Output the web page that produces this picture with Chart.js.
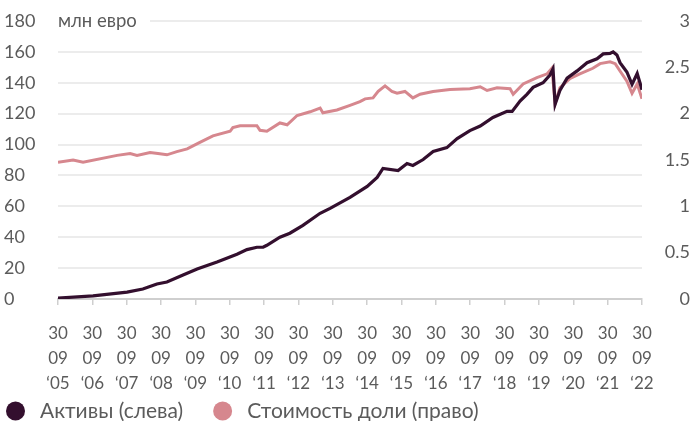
<!DOCTYPE html>
<html>
<head>
<meta charset="utf-8">
<script src="https://cdn.jsdelivr.net/npm/chart.js@4"></script>
<style>
  body { margin: 0; background: #fff; }
  #wrap { width: 694px; height: 421px; }
</style>
</head>
<body>
<div id="wrap"><canvas id="fundChart" width="694" height="421"></canvas></div>
<script>
/*global Chart*/

//----------------------------------------------------------------
/* Data (x = decimal year) */
//----------------------------------------------------------------
var assetYears = [2005.75, 2006.77, 2007.76, 2008.22, 2008.63, 2008.92, 2009.39, 2009.80, 2010.38, 2010.96,
    2011.25, 2011.54, 2011.72, 2011.83, 2012.21, 2012.50, 2012.88, 2013.38, 2013.67, 2014.25,
    2014.75, 2015.04, 2015.21, 2015.65, 2015.91, 2016.08, 2016.38, 2016.67, 2017.07, 2017.37,
    2017.74, 2018.04, 2018.41, 2018.82, 2018.97, 2019.20, 2019.40, 2019.58, 2019.87, 2020.07,
    2020.16, 2020.22, 2020.36, 2020.57, 2020.86, 2021.15, 2021.44, 2021.62, 2021.82, 2021.91,
    2022.02, 2022.11, 2022.31, 2022.46, 2022.61, 2022.75];
var assetValues = [0.6, 2, 4.5, 6.5, 9.7, 11, 15.5, 19.4, 24, 29,
    32, 33.5, 33.5, 34.8, 40, 42.6, 47.7, 55.5, 58.7, 65.8,
    72.9, 78.7, 84.5, 83.2, 87.7, 86.5, 90.3, 95.5, 98, 103.9,
    109, 112, 117.5, 121.5, 121.5, 128.2, 132.5, 137, 140, 145,
    149, 126, 135, 143, 147.7, 153, 155.5, 158.7, 159, 160,
    158, 153, 147, 139, 146, 135.5];

var shareYears = [2005.75, 2006.19, 2006.48, 2007.47, 2007.85, 2008.05, 2008.43, 2008.66, 2008.92, 2009.21,
    2009.51, 2009.88, 2010.26, 2010.76, 2010.84, 2011.05, 2011.54, 2011.63, 2011.83, 2012.21,
    2012.42, 2012.71, 2013.09, 2013.38, 2013.46, 2013.87, 2014.25, 2014.54, 2014.69, 2014.92,
    2015.07, 2015.27, 2015.47, 2015.62, 2015.85, 2016.08, 2016.29, 2016.67, 2017.16, 2017.74,
    2018.04, 2018.24, 2018.53, 2018.91, 2019.00, 2019.29, 2019.69, 2019.99, 2020.13, 2020.22,
    2020.36, 2020.66, 2020.94, 2021.32, 2021.53, 2021.82, 2021.97, 2022.11, 2022.31, 2022.46,
    2022.61, 2022.75];
var shareValues = [1.476, 1.50, 1.476, 1.55, 1.57, 1.55, 1.58, 1.57, 1.556, 1.59,
    1.62, 1.69, 1.76, 1.81, 1.85, 1.87, 1.87, 1.82, 1.81, 1.90,
    1.88, 1.98, 2.02, 2.06, 2.01, 2.04, 2.09, 2.13, 2.16, 2.17,
    2.24, 2.30, 2.24, 2.22, 2.24, 2.17, 2.21, 2.24, 2.26, 2.27,
    2.29, 2.25, 2.28, 2.27, 2.21, 2.32, 2.39, 2.43, 2.49, 2.11,
    2.28, 2.38, 2.43, 2.49, 2.54, 2.56, 2.54, 2.46, 2.35, 2.22,
    2.32, 2.16];

var tickYears = ["05", "06", "07", "08", "09", "10", "11", "12", "13", "14",
    "15", "16", "17", "18", "19", "20", "21", "22"];
var leftTicks = [0, 20, 40, 60, 80, 100, 120, 140, 160, 180];
var rightTicks = [0, 0.5, 1, 1.5, 2, 2.5, 3];

//----------------------------------------------------------------
/* Chart */
//----------------------------------------------------------------
function toPoints(xs, ys) {
    return xs.map(function (x, i) { return {x: x, y: ys[i]}; });
}

var textColor = "#5b5b5b";
var fontFamily = "Lato, 'Open Sans', sans-serif";

// "млн евро" sits on the top gridline, with white behind it
var unitLabel = {
    id: "unitLabel",
    afterDraw: function (chart) {
        var c = chart.ctx;
        var y = chart.scales.yLeft.getPixelForValue(180);
        c.save();
        c.fillStyle = "#fff";
        c.fillRect(chart.chartArea.left - 2, y - 4, 94, 8);
        c.fillStyle = textColor;
        c.font = "18.5px " + fontFamily;
        c.textBaseline = "middle";
        c.fillText("млн евро", chart.chartArea.left, y);
        c.restore();
    }
};

// legend with round markers, drawn under the axis
var bottomLegend = {
    id: "bottomLegend",
    afterDraw: function (chart) {
        var c = chart.ctx;
        var x = 6, y = 411;
        c.save();
        c.font = "21px " + fontFamily;
        c.textBaseline = "middle";
        chart.data.datasets.forEach(function (ds) {
            c.fillStyle = ds.borderColor;
            c.beginPath();
            c.arc(x + 9.5, y, 9.5, 0, Math.PI * 2);
            c.fill();
            c.fillStyle = textColor;
            c.fillText(ds.label, x + 34, y);
            x += 34 + c.measureText(ds.label).width + 30;
        });
        c.restore();
    }
};

var lineData = {
    datasets: [
        {
            label: "Активы (слева)",
            data: toPoints(assetYears, assetValues),
            borderColor: "#330f2e",
            backgroundColor: "#330f2e",
            borderWidth: 3.2,
            pointRadius: 0,
            yAxisID: "yLeft"
        },
        {
            label: "Стоимость доли (право)",
            data: toPoints(shareYears, shareValues),
            borderColor: "#d6878e",
            backgroundColor: "#d6878e",
            borderWidth: 3,
            pointRadius: 0,
            yAxisID: "yRight"
        }
    ]
};

var lineOptions = {
    responsive: false,
    animation: false,
    layout: { padding: { top: 21, left: 4, right: 4, bottom: 27 } },
    plugins: {
        legend: { display: false },
        tooltip: { enabled: false }
    },
    scales: {
        x: {
            type: "linear",
            min: 2005.75,
            max: 2022.75,
            afterBuildTicks: function (scale) {
                scale.ticks = tickYears.map(function (y, i) { return {value: 2005.75 + i}; });
            },
            afterFit: function (scale) { scale.height = 95; },
            grid: { drawOnChartArea: false, color: "#cfcfcf", tickLength: 6, lineWidth: 1.5 },
            border: { color: "#cfcfcf", width: 2 },
            ticks: {
                maxRotation: 0,
                autoSkip: false,
                padding: 16,
                color: textColor,
                font: { family: fontFamily, size: 17, lineHeight: 1.47 },
                callback: function (value, index) {
                    return ["30", "09", "\u2018" + tickYears[index]];
                }
            }
        },
        yLeft: {
            position: "left",
            min: 0,
            max: 180,
            afterBuildTicks: function (scale) {
                scale.ticks = leftTicks.map(function (v) { return {value: v}; });
            },
            afterFit: function (scale) { scale.width = 54; },
            border: { display: false },
            grid: { color: "#ececec", lineWidth: 2, drawTicks: false },
            ticks: {
                crossAlign: "far",
                padding: 4,
                color: textColor,
                font: { family: fontFamily, size: 18 }
            }
        },
        yRight: {
            position: "right",
            min: 0,
            max: 3,
            afterBuildTicks: function (scale) {
                scale.ticks = rightTicks.map(function (v) { return {value: v}; });
            },
            afterFit: function (scale) { scale.width = 48; },
            border: { display: false },
            grid: { drawOnChartArea: false, drawTicks: false },
            ticks: {
                crossAlign: "far",
                padding: 4,
                color: textColor,
                font: { family: fontFamily, size: 18 },
                callback: function (value) { return String(value); }
            }
        }
    }
};

var ctx = document.getElementById("fundChart").getContext("2d");
new Chart(ctx, {type: "line", data: lineData, options: lineOptions, plugins: [unitLabel, bottomLegend]});
</script>
</body>
</html>
